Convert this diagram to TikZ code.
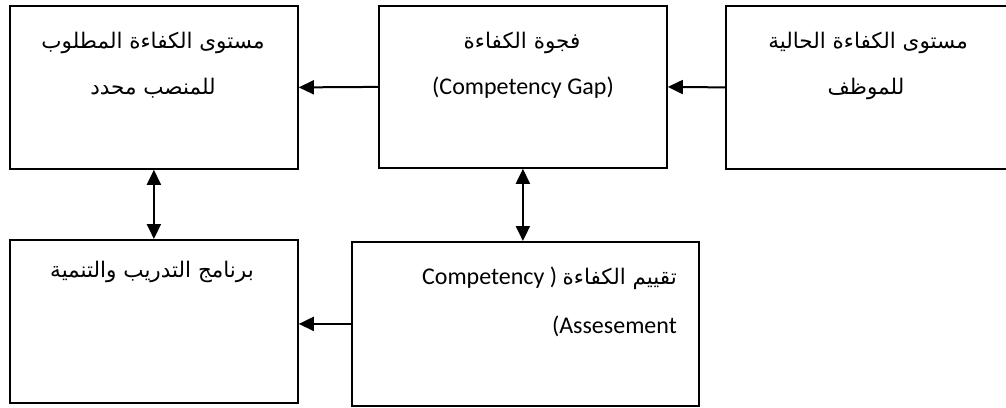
\documentclass[tikz,border=0pt]{standalone}
\usepackage{fontspec}
\setmainfont{Carlito}
\newfontfamily\arabicfont[Script=Arabic]{DejaVu Sans}
\TeXXeTstate=1
\usetikzlibrary{arrows.meta}

\newcommand{\latinsize}{\fontsize{24}{24}\selectfont}
\newcommand{\arsize}{\fontsize{21.5}{21.5}\selectfont}
\newcommand{\ar}[1]{{\arabicfont\arsize\beginR #1\endR}}

\begin{document}
\begin{tikzpicture}[x=1pt,y=-1pt,
  box/.style={draw, line width=1.8pt, rectangle, anchor=north west,
    inner sep=0pt, minimum width=288pt, minimum height=163pt},
  label/.style={inner sep=0pt, anchor=base, font=\latinsize},
  link/.style={line width=2pt, -{Triangle[length=15pt,width=14pt]}},
  both/.style={line width=2pt, {Triangle[length=15pt,width=14pt]}-{Triangle[length=15pt,width=14pt]}}]
\useasboundingbox (0,0) rectangle (1006,407);
\clip (0,0) rectangle (1006,407);

% boxes
\node[box] (A) at (9,5) {};
\node[box, minimum height=162pt] (B) at (378,5) {};
\node[box] (C) at (725,5) {};
\node[box] (D) at (9,239) {};
\node[box, minimum width=347pt, minimum height=164pt] (E) at (351,241) {};

% texts
\node[label] (a1) at (153,48) {\ar{مستوى الكفاءة المطلوب}};
\node[label] (a2) at (153,94) {\ar{للمنصب محدد}};
\node[label] (b1) at (522,48) {\ar{فجوة الكفاءة}};
\node[label] (b2) at (523,94) {(Competency Gap)};
\node[label] (c1) at (868,48) {\ar{مستوى الكفاءة الحالية}};
\node[label] (c2) at (866,94) {\ar{للموظف}};
\node[label] (d1) at (152,277) {\ar{برنامج التدريب والتنمية}};
\node[label, anchor=base east] (e1) at (677,284) {Competency ) \ar{تقييم الكفاءة}};
\node[label, anchor=base east] (e2) at (677,333) {(Assesement};

% connectors
\draw[link] (C.west) -- (B.east);
\draw[link] (B.west) -- (A.east);
\draw[both] (A.south) -- (D.north);
\draw[both] (B.south) -- (B.south |- E.north);
\draw[link] (E.west) -- (E.west -| D.east);
\end{tikzpicture}
\end{document}
